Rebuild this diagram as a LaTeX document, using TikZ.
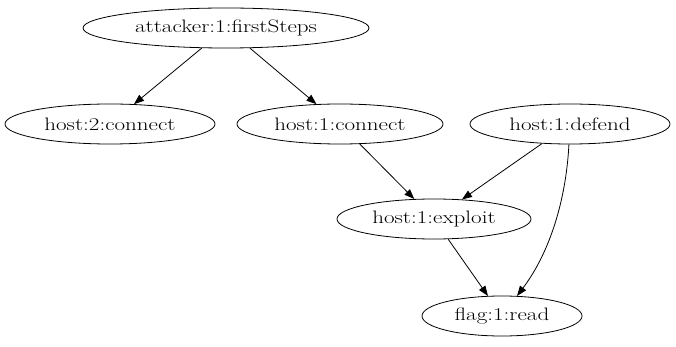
\documentclass[tikz,border=0pt]{standalone}
\usepackage{graphicx}
\usetikzlibrary{shapes.geometric,arrows.meta}
\newcommand{\lbl}[1]{\scalebox{1.28}[1]{#1}}
\begin{document}
\begin{tikzpicture}[x=1pt,y=-1pt,
  state/.style={draw,ellipse,inner sep=0pt,minimum height=40pt,font=\fontsize{18}{20}\selectfont,line width=0.8pt},
  edge/.style={draw,line width=0.8pt,-{Triangle[length=10pt,width=7.5pt]}}]
\useasboundingbox (0,0) rectangle (676,347);
\fill[white] (0,0) rectangle (676,347);
\node[state,minimum width=286pt] (att) at (226,28) {\lbl{attacker:1:firstSteps}};
\node[state,minimum width=210pt] (h2c) at (110,124) {\lbl{host:2:connect}};
\node[state,minimum width=206pt] (h1c) at (340,124) {\lbl{host:1:connect}};
\node[state,minimum width=200pt] (def) at (570,124) {\lbl{host:1:defend}};
\node[state,minimum width=194pt] (exp) at (434,219) {\lbl{host:1:exploit}};
\node[state,minimum width=160pt] (flag) at (502,316) {\lbl{flag:1:read}};
\draw[edge] (att) -- (h2c);
\draw[edge] (att) -- (h1c);
\draw[edge] (h1c) -- (exp);
\draw[edge] (def) -- (exp);
\draw[edge] (exp) -- (flag);
\draw[edge] (def) .. controls (566,200) and (550,252) .. (flag);
\end{tikzpicture}
\end{document}
